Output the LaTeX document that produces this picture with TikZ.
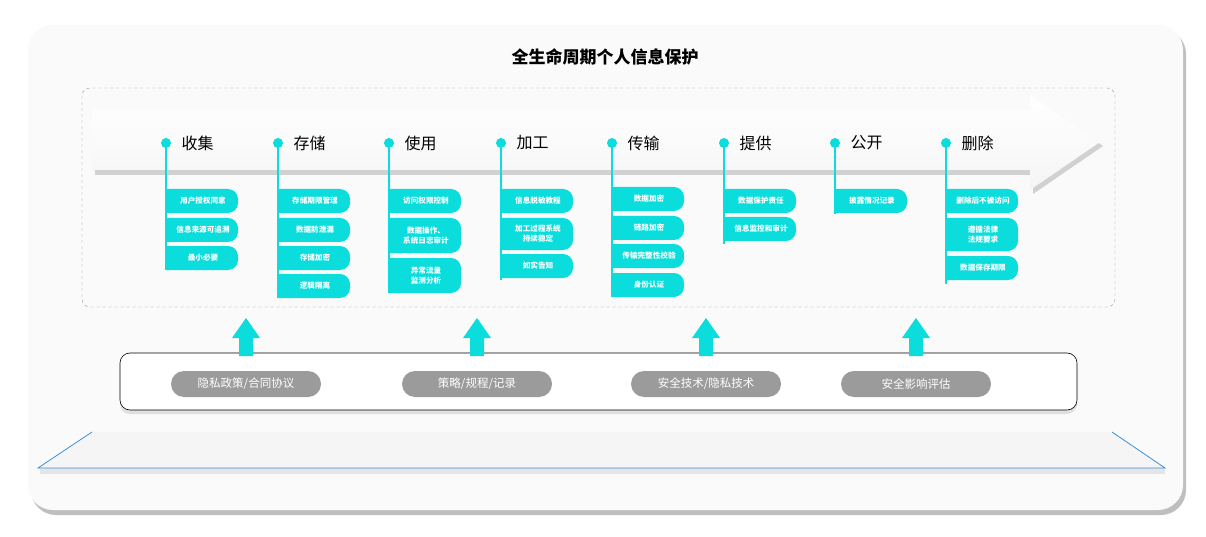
\documentclass[tikz,border=0pt]{standalone}
\usepackage{fontspec}
\newfontfamily\cjk{Noto Sans CJK SC}
\usetikzlibrary{shadows,calc}
\definecolor{cy}{HTML}{0BDCDC}
\definecolor{pillgray}{HTML}{9B9B9B}
\definecolor{plate}{HTML}{3A8FD8}
\tikzset{
 stagetxt/.style={font=\cjk\fontsize{16}{18}\selectfont,anchor=west,text=black},
 pill/.style={fill=pillgray,text=white,rounded corners=13pt,minimum width=150pt,minimum height=26pt,font=\cjk\fontsize{11.5}{13}\selectfont},
}
\newcommand{\tabbox}[5]{% name, x, ytop, height, text
 \fill[cy] (#2,-#3) -- ++(62,0) arc[start angle=90,end angle=0,radius=10pt] -- ++(0,-#4+20) arc[start angle=0,end angle=-90,radius=10pt] -- (#2,-#3-#4) -- cycle;
 \node[font=\cjk\bfseries\fontsize{7.6}{10}\selectfont,text=white,align=center] (#1) at (#2+37,-#3-#4/2) {#5};
}
\newcommand{\stage}[4]{% name, x, text, bottom
 \draw[cy,line width=2.5pt] (#2,-143) -- (#2,-#4);
 \fill[cy] (#2,-143) circle (5pt);
 \node[stagetxt] (#1) at (#2+12,-143) {#3};
}
\newcommand{\uparr}[2]{%
 \fill[cy] (#2-7,-356) -- (#2-7,-338) -- (#2-14,-338) -- (#2,-318) -- (#2+14,-338) -- (#2+7,-338) -- (#2+7,-356) -- cycle;
 \coordinate (#1) at (#2,-318);
}
\begin{document}
\begin{tikzpicture}[x=1pt,y=1pt]
\useasboundingbox (0,0) rectangle (1206,-537);
\fill[white] (0,0) rectangle (1206,-537);
% outer card
\fill[black!25,rounded corners=25pt] (31,-29) rectangle (1186,-515);
\fill[black!2,rounded corners=25pt] (28,-25) rectangle (1183,-510);
\node[font=\cjk\bfseries\fontsize{17}{20}\selectfont] (title) at (605,-57) {全生命周期个人信息保护};
% dashed area
\draw[black!40,dashed,rounded corners=8pt] (82,-88) rectangle (1115,-307);
% big arrow
\fill[black!18] (95,-114) -- (1033,-114) -- (1033,-99) -- (1103,-146) -- (1033,-194) -- (1033,-175) -- (95,-175) -- cycle;
\shade[top color=white,bottom color=black!4] (92,-110) -- (1030,-110) -- (1030,-95) -- (1100,-142) -- (1030,-190) -- (1030,-170) -- (92,-170) -- cycle;
% stages
\stage{s1}{166}{收集}{270}
\stage{s2}{278}{存储}{298}
\stage{s3}{389}{使用}{293}
\stage{s4}{501}{加工}{280}
\stage{s5}{612}{传输}{297}
\stage{s6}{724}{提供}{244}
\stage{s7}{835}{公开}{214}
\stage{s8}{946}{删除}{284}
% tabs
\tabbox{a1}{166}{189}{24}{用户授权同意}
\tabbox{a2}{166}{218}{24}{信息来源可追溯}
\tabbox{a3}{166}{246}{24}{最小必要}
\tabbox{b1}{278}{189}{24}{存储期限管理}
\tabbox{b2}{278}{218}{24}{数据防泄漏}
\tabbox{b3}{278}{246}{24}{存储加密}
\tabbox{b4}{278}{274}{24}{逻辑隔离}
\tabbox{c1}{389}{189}{24}{访问权限控制}
\tabbox{c2}{389}{218}{35}{数据操作、\\系统日志审计}
\tabbox{c3}{389}{258}{35}{异常流量\\监测分析}
\tabbox{d1}{501}{189}{24}{信息脱敏教程}
\tabbox{d2}{501}{218}{32}{加工过程系统\\持续稳定}
\tabbox{d3}{501}{254}{24}{如实告知}
\tabbox{e1}{612}{187}{24}{数据加密}
\tabbox{e2}{612}{216}{24}{链路加密}
\tabbox{e3}{612}{244}{24}{传输完整性校验}
\tabbox{e4}{612}{273}{24}{身份认证}
\tabbox{f1}{724}{189}{24}{数据保护责任}
\tabbox{f2}{724}{217}{24}{信息监控和审计}
\tabbox{g1}{835}{189}{24}{披露情况记录}
\tabbox{h1}{946}{189}{24}{删除后不被访问}
\tabbox{h2}{946}{218}{33}{遵循法律\\法规要求}
\tabbox{h3}{946}{256}{24}{数据保存期限}
% bottom panel
\fill[black!12,rounded corners=10pt] (120,-358) rectangle (1077,-414);
\draw[black,fill=white,line width=0.6pt,rounded corners=10pt] (120,-353) rectangle (1077,-410);
\node[pill] (p1) at (246,-384) {隐私政策/合同协议};
\node[pill] (p2) at (477,-384) {策略/规程/记录};
\node[pill] (p3) at (706,-384) {安全技术/隐私技术};
\node[pill] (p4) at (916,-384) {安全影响评估};
\uparr{u1}{246}
\uparr{u2}{477}
\uparr{u3}{706}
\uparr{u4}{916}
% base plate
\fill[black!10] (40,-468) -- (1165,-468) -- (1165,-474) -- (40,-474) -- cycle;
\fill[black!4] (92,-432) -- (1112,-432) -- (1165,-468) -- (38,-468) -- cycle;
\draw[plate,line width=0.8pt] (92,-432) -- (38,-468) -- (1165,-468) -- (1112,-432);
\end{tikzpicture}
\end{document}
